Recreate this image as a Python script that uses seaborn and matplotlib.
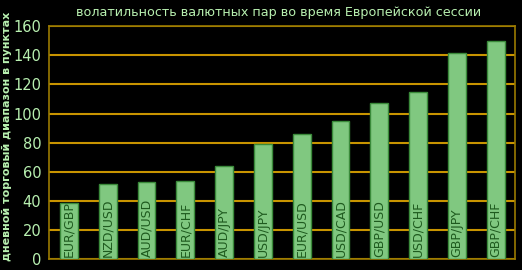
import matplotlib
matplotlib.use("Agg")
import matplotlib.pyplot as plt
import seaborn as sns
import pandas as pd

pairs = ["EUR/GBP", "NZD/USD", "AUD/USD", "EUR/CHF", "AUD/JPY", "USD/JPY",
         "EUR/USD", "USD/CAD", "GBP/USD", "USD/CHF", "GBP/JPY", "GBP/CHF"]
values = [39, 51.5, 53, 53.5, 64, 79, 86, 95, 107.5, 115, 141.5, 149.5]
yticks = [0, 20, 40, 60, 80, 100, 120, 140, 160]
title = "волатильность валютных пар во время Европейской сессии"
ylabel = "дневной торговый диапазон в пунктах"

df = pd.DataFrame({"pair": pairs, "value": values})

sns.set_theme(style="dark")
plt.rcParams['font.family'] = ['DejaVu Sans']

txt = "#b8f0b0"
grid = "#c89400"
frame = "#9a7a00"

fig = plt.figure(figsize=(5.22, 2.70), dpi=100, facecolor="black")
ax = fig.add_axes([0.0948, 0.039, 0.892, 0.865], facecolor="black")

sns.barplot(data=df, x="pair", y="value", ax=ax, color="#80c880",
            saturation=1, width=0.46, edgecolor="#3a8a3a", linewidth=1, zorder=3)

ax.set_ylim(0, 160)
ax.set_yticks(yticks)
ax.set_xlim(-0.5, len(pairs) - 0.5)
ax.yaxis.grid(True, color=grid, linewidth=1.5, zorder=0)
ax.xaxis.grid(False)
ax.set_axisbelow(True)
for s in ax.spines.values():
    s.set_visible(True)
    s.set_color(frame)
    s.set_linewidth(1.2)

ax.set_xticks([])
ax.set_xlabel("")
ax.tick_params(axis="y", colors=txt, labelsize=10.5, length=0, pad=6)
ax.set_ylabel(ylabel, color=txt, fontsize=8.0, fontweight="bold")
ax.yaxis.set_label_coords(-0.08, 0.525)

for i, p in enumerate(pairs):
    ax.text(i, 2, p, rotation=90, ha="center", va="bottom", color="#1e5a1e",
            fontsize=9, zorder=4)

fig.text(0.533, 0.955, title, ha="center", va="center", color=txt,
         fontsize=9.2)

fig.savefig("out.png", dpi=100, facecolor="black")
